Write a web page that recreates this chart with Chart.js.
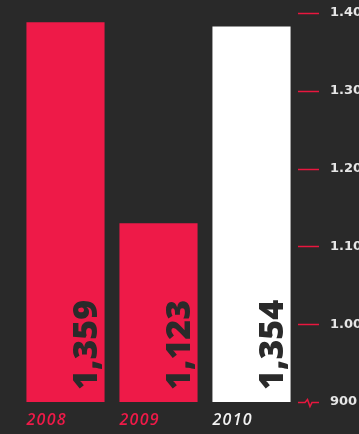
<!DOCTYPE html>
<html>
<head>
<meta charset="utf-8">
<script src="https://cdn.jsdelivr.net/npm/chart.js@4.4.0/dist/chart.umd.min.js"></script>
<style>
    html, body { margin: 0; padding: 0; background: #292929; overflow: hidden; }
    #wrap { width: 359px; height: 434px; overflow: hidden; }
</style>
</head>
<body>
<div id="wrap"><canvas id="salesChart" width="372" height="434"></canvas></div>
<script>
const years = ['2008', '2009', '2010'];
const totals = [1359, 1123, 1354];
const yearColors = ['#ee1a48', '#ee1a48', '#ffffff'];
const labelColors = ['#ee1a48', '#ee1a48', '#f2f2f2'];
const tickValues = [900, 1000, 1100, 1200, 1300, 1400];
const tickLabels = ['900', '1.000', '1.100', '1.200', '1.300', '1.400'];

const RED = '#e8173f';

// Year labels under the bars and rotated totals inside them
const barLabels = {
    id: 'barLabels',
    afterDatasetsDraw(chart) {
        const ctx = chart.ctx;
        const bottom = chart.chartArea.bottom;
        const meta = chart.getDatasetMeta(0);
        meta.data.forEach((bar, i) => {
            const left = bar.x - bar.width / 2;
            const right = bar.x + bar.width / 2;

            ctx.save();
            ctx.translate(right - 8, bottom - 12);
            ctx.rotate(-Math.PI / 2);
            ctx.font = '800 34px "Open Sans"';
            ctx.fillStyle = '#2a2a2a';
            ctx.textAlign = 'left';
            ctx.textBaseline = 'alphabetic';
            ctx.fillText(totals[i].toLocaleString('en-US'), 0, 0);
            ctx.restore();

            ctx.save();
            ctx.font = 'italic 600 16px "Open Sans"';
            ctx.letterSpacing = '1.3px';
            ctx.fillStyle = labelColors[i];
            ctx.textAlign = 'left';
            ctx.textBaseline = 'alphabetic';
            ctx.fillText(years[i], left, 425);
            ctx.restore();
        });
    }
};

// Short red tick marks, with a broken-axis zigzag at the bottom one
const axisTicks = {
    id: 'axisTicks',
    afterDraw(chart) {
        const scale = chart.scales.y;
        const x = scale.left;
        const ctx = chart.ctx;
        ctx.save();
        ctx.strokeStyle = RED;
        ctx.lineWidth = 1.5;
        tickValues.forEach((v, i) => {
            const y = Math.round(scale.getPixelForValue(v)) + 0.5;
            ctx.beginPath();
            if (i === 0) {
                ctx.moveTo(x, y);
                ctx.lineTo(x + 7, y);
                ctx.lineTo(x + 9.5, y - 3);
                ctx.lineTo(x + 12, y + 4);
                ctx.lineTo(x + 14, y);
                ctx.lineTo(x + 21, y);
            } else {
                ctx.moveTo(x, y);
                ctx.lineTo(x + 21, y);
            }
            ctx.stroke();
        });
        ctx.restore();
    }
};

new Chart(document.getElementById('salesChart'), {
    type: 'bar',
    data: {
        labels: years,
        datasets: [{
            data: totals,
            base: 913,
            backgroundColor: yearColors,
            yAxisID: 'yb',
            barPercentage: 0.84,
            categoryPercentage: 1
        }]
    },
    options: {
        responsive: false,
        animation: false,
        layout: { padding: { left: 19, right: 0, top: 13, bottom: 32 } },
        plugins: {
            legend: { display: false },
            tooltip: { enabled: false }
        },
        scales: {
            x: { display: false },
            yb: { display: false, min: 913, max: 1370 },
            y: {
                type: 'linear',
                position: 'right',
                min: 900,
                max: 1400,
                afterBuildTicks(scale) {
                    scale.ticks = tickValues.map(v => ({ value: v }));
                },
                afterFit(scale) {
                    scale.width = 74;
                    scale.paddingTop = 0;
                    scale.paddingBottom = 0;
                },
                border: { display: false },
                grid: { display: false, drawTicks: false },
                ticks: {
                    padding: 32,
                    color: '#e6e6e6',
                    font: { family: 'DejaVu Sans', weight: 'bold', size: 13 },
                    callback: (value, index) => tickLabels[index]
                }
            }
        }
    },
    plugins: [barLabels, axisTicks]
});
</script>
</body>
</html>
